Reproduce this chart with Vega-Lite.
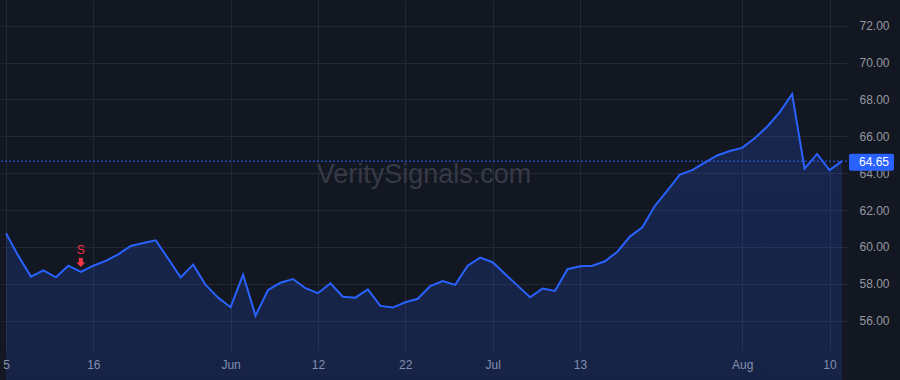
{
  "$schema": "https://vega.github.io/schema/vega-lite/v6.json",
  "width": 846,
  "height": 350,
  "autosize": {"type": "pad"},
  "padding": {"left": 0, "top": 0, "right": 7, "bottom": 7},
  "background": "#131722",
  "config": {
    "view": {"stroke": null},
    "font": "Liberation Sans",
    "axis": {"zindex": 0}
  },
  "data": {
    "values": [
      {"date": "2023-05-05", "close": 60.74},
      {"date": "2023-05-08", "close": 59.50},
      {"date": "2023-05-09", "close": 58.39},
      {"date": "2023-05-10", "close": 58.73},
      {"date": "2023-05-11", "close": 58.35},
      {"date": "2023-05-12", "close": 58.98},
      {"date": "2023-05-15", "close": 58.64, "signal": "S"},
      {"date": "2023-05-16", "close": 58.98},
      {"date": "2023-05-17", "close": 59.24},
      {"date": "2023-05-18", "close": 59.60},
      {"date": "2023-05-19", "close": 60.05},
      {"date": "2023-05-22", "close": 60.21},
      {"date": "2023-05-23", "close": 60.36},
      {"date": "2023-05-24", "close": 59.36},
      {"date": "2023-05-25", "close": 58.35},
      {"date": "2023-05-26", "close": 59.04},
      {"date": "2023-05-30", "close": 57.94},
      {"date": "2023-05-31", "close": 57.25},
      {"date": "2023-06-01", "close": 56.73},
      {"date": "2023-06-02", "close": 58.49},
      {"date": "2023-06-05", "close": 56.27},
      {"date": "2023-06-06", "close": 57.66},
      {"date": "2023-06-07", "close": 58.06},
      {"date": "2023-06-08", "close": 58.26},
      {"date": "2023-06-09", "close": 57.76},
      {"date": "2023-06-12", "close": 57.49},
      {"date": "2023-06-13", "close": 58.03},
      {"date": "2023-06-14", "close": 57.30},
      {"date": "2023-06-15", "close": 57.25},
      {"date": "2023-06-16", "close": 57.70},
      {"date": "2023-06-20", "close": 56.80},
      {"date": "2023-06-21", "close": 56.71},
      {"date": "2023-06-22", "close": 57.00},
      {"date": "2023-06-23", "close": 57.19},
      {"date": "2023-06-26", "close": 57.88},
      {"date": "2023-06-27", "close": 58.15},
      {"date": "2023-06-28", "close": 57.94},
      {"date": "2023-06-29", "close": 58.98},
      {"date": "2023-06-30", "close": 59.42},
      {"date": "2023-07-03", "close": 59.17},
      {"date": "2023-07-05", "close": 58.53},
      {"date": "2023-07-06", "close": 57.90},
      {"date": "2023-07-07", "close": 57.27},
      {"date": "2023-07-10", "close": 57.74},
      {"date": "2023-07-11", "close": 57.61},
      {"date": "2023-07-12", "close": 58.79},
      {"date": "2023-07-13", "close": 58.95},
      {"date": "2023-07-14", "close": 58.98},
      {"date": "2023-07-17", "close": 59.22},
      {"date": "2023-07-18", "close": 59.74},
      {"date": "2023-07-19", "close": 60.56},
      {"date": "2023-07-20", "close": 61.06},
      {"date": "2023-07-21", "close": 62.22},
      {"date": "2023-07-24", "close": 63.05},
      {"date": "2023-07-25", "close": 63.92},
      {"date": "2023-07-26", "close": 64.16},
      {"date": "2023-07-27", "close": 64.57},
      {"date": "2023-07-28", "close": 64.96},
      {"date": "2023-07-31", "close": 65.20},
      {"date": "2023-08-01", "close": 65.37},
      {"date": "2023-08-02", "close": 65.89},
      {"date": "2023-08-03", "close": 66.52},
      {"date": "2023-08-04", "close": 67.30},
      {"date": "2023-08-07", "close": 68.29},
      {"date": "2023-08-08", "close": 64.24},
      {"date": "2023-08-09", "close": 65.04},
      {"date": "2023-08-10", "close": 64.17},
      {"date": "2023-08-11", "close": 64.65}
    ]
  },
  "encoding": {
    "x": {
      "field": "date",
      "type": "ordinal",
      "scale": {"type": "point", "padding": 0.4},
      "axis": {
        "title": null,
        "values": ["2023-05-05", "2023-05-16", "2023-06-01", "2023-06-12", "2023-06-22", "2023-07-03", "2023-07-13", "2023-08-01", "2023-08-10"],
        "labelExpr": "datum.value == '2023-06-01' ? 'Jun' : datum.value == '2023-07-03' ? 'Jul' : datum.value == '2023-08-01' ? 'Aug' : '' + toNumber(slice(datum.value, 8))",
        "labelAngle": 0,
        "labelColor": "#9598a1",
        "labelFontSize": 12,
        "labelPadding": 9,
        "ticks": false,
        "domain": false,
        "grid": true,
        "gridColor": "#242833",
        "gridWidth": 1
      }
    },
    "y": {
      "field": "close",
      "type": "quantitative",
      "scale": {"domain": [54.41, 73.39], "nice": false, "zero": false},
      "axis": {
        "title": null,
        "orient": "right",
        "values": [56, 58, 60, 62, 64, 66, 68, 70, 72],
        "format": ".2f",
        "labelColor": "#9598a1",
        "labelFontSize": 12,
        "labelPadding": 12,
        "labelAlign": "left",
        "ticks": false,
        "domain": false,
        "grid": true,
        "gridColor": "#242833",
        "gridWidth": 1
      }
    }
  },
  "layer": [
    {
      "data": {"values": [{"label": "VeritySignals.com"}]},
      "mark": {
        "type": "text",
        "x": {"expr": "width / 2"},
        "y": {"expr": "height / 2"},
        "align": "center",
        "baseline": "middle",
        "fontSize": 27,
        "color": "#363a46"
      },
      "encoding": {"text": {"field": "label"}, "x": null, "y": null}
    },
    {
      "mark": {
        "type": "area",
        "interpolate": "linear",
        "opacity": 1,
        "fill": {
          "gradient": "linear",
          "x1": 0, "y1": 0, "x2": 0, "y2": 1,
          "stops": [
            {"offset": 0, "color": "rgba(41,98,255,0.2)"},
            {"offset": 1, "color": "rgba(41,98,255,0.03)"}
          ]
        }
      }
    },
    {
      "mark": {"type": "line", "color": "#2962ff", "strokeWidth": 2}
    },
    {
      "transform": [{"filter": {"field": "date", "equal": "2023-08-11"}}],
      "mark": {"type": "rule", "color": "#2962ff", "strokeWidth": 1, "strokeDash": [2, 2]},
      "encoding": {"x": null}
    },
    {
      "transform": [{"filter": {"field": "date", "equal": "2023-08-11"}}],
      "mark": {"type": "tick", "orient": "horizontal", "size": 45, "thickness": 17, "color": "#2962ff", "opacity": 1, "xOffset": 29.5, "yOffset": 1, "cornerRadius": 2}
    },
    {
      "transform": [{"filter": {"field": "date", "equal": "2023-08-11"}}],
      "mark": {"type": "text", "align": "left", "baseline": "middle", "dx": 17, "dy": 1, "fontSize": 12, "color": "#ffffff"},
      "encoding": {"text": {"field": "close", "format": ".2f"}}
    },
    {
      "transform": [{"filter": {"field": "signal", "equal": "S"}}],
      "mark": {"type": "point", "shape": "M-0.45,-1L0.45,-1L0.45,0L1,0L0,1L-1,0L-0.45,0Z", "size": 80, "filled": true, "color": "#f23645", "opacity": 1, "yOffset": -9.5}
    },
    {
      "transform": [{"filter": {"field": "signal", "equal": "S"}}],
      "mark": {"type": "text", "baseline": "middle", "align": "center", "dy": -22, "fontSize": 12, "color": "#f23645"},
      "encoding": {"text": {"field": "signal"}}
    }
  ]
}
